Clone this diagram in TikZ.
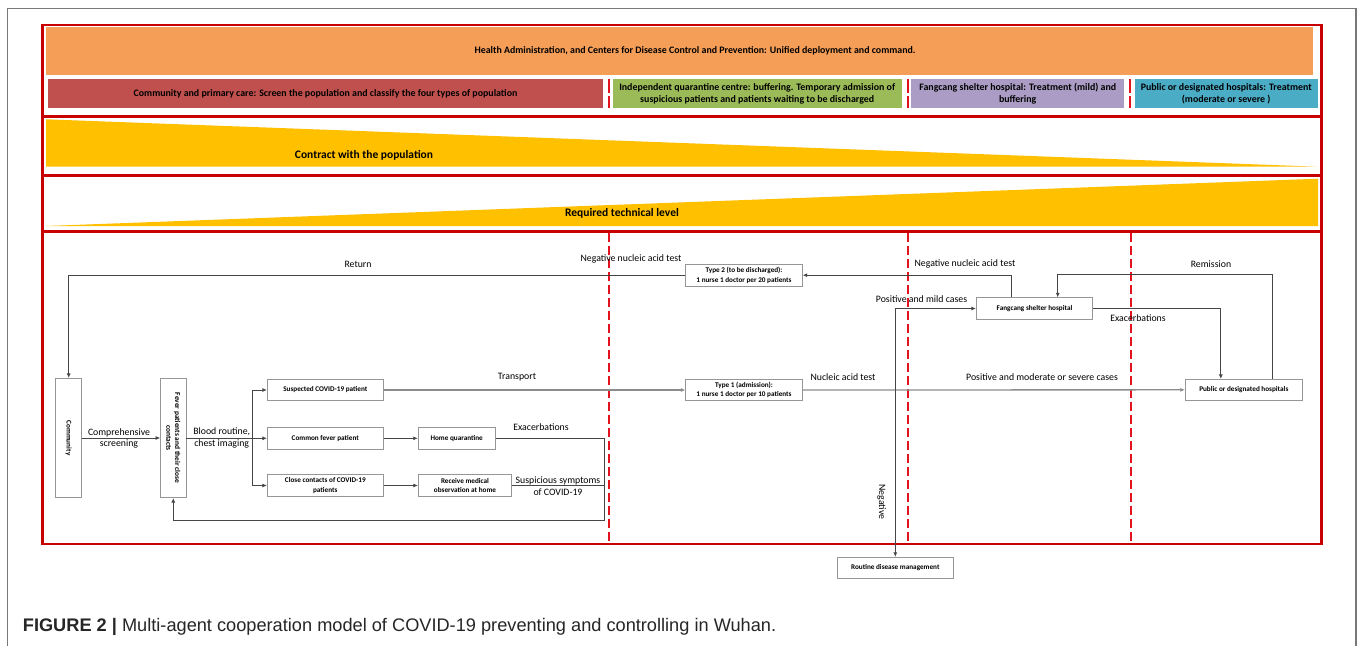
\documentclass[tikz,border=0pt]{standalone}
\usepackage{fontspec}
\setmainfont{Carlito}
\newfontfamily\capfont{Liberation Sans}
\usetikzlibrary{arrows.meta}

\definecolor{hdrorange}{RGB}{245,158,88}
\definecolor{cpcred}{RGB}{192,80,77}
\definecolor{iqcgreen}{RGB}{155,187,89}
\definecolor{fshpurple}{RGB}{170,156,196}
\definecolor{pdhblue}{RGB}{75,172,198}
\definecolor{triyellow}{RGB}{255,192,0}
\definecolor{framered}{RGB}{200,0,0}
\definecolor{zonered}{RGB}{225,20,30}
\definecolor{boxgray}{RGB}{150,150,150}
\definecolor{linegray}{RGB}{70,70,70}
\definecolor{maingray}{RGB}{140,140,140}
\definecolor{pagegray}{RGB}{120,120,120}

\begin{document}
\begin{tikzpicture}[
    x=1pt, y=-1pt,
    frame/.style={framered, line width=2.5pt},
    zone/.style={zonered, line width=1.6pt, dash pattern=on 9pt off 4pt},
    band/.style={inner sep=0pt, align=center, font=\bfseries\fontsize{9.9}{12}\selectfont},
    tritext/.style={inner sep=0pt, font=\bfseries\fontsize{11.5}{13}\selectfont},
    box/.style={draw=boxgray, fill=white, line width=0.8pt, inner sep=1pt, align=center,
        minimum width=116pt, minimum height=21.5pt, font=\bfseries\fontsize{7.2}{9.7}\selectfont},
    vbox/.style={box, minimum width=26pt, minimum height=119.4pt},
    lbl/.style={inner sep=0pt, align=center, font=\fontsize{9.8}{11.6}\selectfont},
    flow/.style={linegray, line width=0.8pt, -{Latex[length=4.5pt,width=4pt]}},
    link/.style={linegray, line width=0.8pt},
    mainflow/.style={flow, maingray, line width=1.3pt}
]

\useasboundingbox (0,0) rectangle (1358,646);
\fill[white] (0,0) rectangle (1358,646);

% page frame
\draw[pagegray, line width=1.3pt] (7.3,646) -- (7.3,8.3) -- (1356,8.3) -- (1356,646);

% =========================
% Header bands
% =========================
\foreach \zx in {609, 908, 1130}
{
    \draw[zone, dash pattern=on 14pt off 3pt] (\zx,79.3) -- (\zx,108.3);
}

\fill[hdrorange] (46,26.7) rectangle (1313,75);
\node[band] (hdr) at (695,51)
    {Health Administration, and Centers for Disease Control and Prevention: Unified deployment and command.};

\node[band, fill=cpcred, minimum width=555.6pt, minimum height=29pt] (cpc) at (325.5,93.8)
    {Community and primary care: Screen the population and classify the four types of population};
\node[band, fill=iqcgreen, minimum width=289pt, minimum height=29pt] (iqc) at (757.2,93.8)
    {Independent quarantine centre: buffering. Temporary admission of\\suspicious patients and patients waiting to be discharged};
\node[band, fill=fshpurple, minimum width=212.7pt, minimum height=29pt] (fsh) at (1017.7,93.8)
    {Fangcang shelter hospital: Treatment (mild) and\\buffering};
\node[band, fill=pdhblue, minimum width=183pt, minimum height=29pt] (pdh) at (1226.2,93.8)
    {Public or designated hospitals: Treatment\\(moderate or severe )};

% =========================
% Wedges
% =========================
\fill[triyellow] (46,119.3) -- (1318,166.7) -- (46,166.7) -- cycle;
\node[tritext] (contract) at (364,155) {Contract with the population};

\fill[triyellow] (46,226) -- (1318,178.7) -- (1318,226) -- cycle;
\node[tritext] (techlevel) at (622,213.3) {Required technical level};

% red frame
\draw[frame] (42.3,25) rectangle (1321.7,544);
\foreach \fy in {116.7, 175.3, 231.3}
{
    \draw[frame] (42.3,\fy) -- (1321.7,\fy);
}

% zone borders
\foreach \zx in {609, 908, 1131}
{
    \draw[zone] (\zx,232.5) -- (\zx,544);
}

% =========================
% Boxes
% =========================
\node[vbox] (comm) at (68.7,438) {\rotatebox{-90}{Community}};
\node[vbox, minimum width=25.4pt] (fever) at (173.3,438)
    {\rotatebox{-90}{\fontsize{7.4}{8.4}\selectfont\shortstack{Fever patients and their close\\contacts}}};

\node[box] (susp) at (325.3,390) {Suspected COVID-19 patient};
\node[box] (common) at (325.3,438.3) {Common fever patient};
\node[box] (close) at (325.3,485.5) {Close contacts of COVID-19\\patients};
\node[box, minimum width=77pt] (homeq) at (456.7,438.3) {Home quarantine};
\node[box, minimum width=93.3pt] (observe) at (465,485.5) {Receive medical\\observation at home};

\node[box, minimum width=116.6pt] (type2) at (744,275.2) {Type 2 (to be discharged):\\1 nurse 1 doctor per 20 patients};
\node[box, minimum width=116.6pt] (type1) at (744,390) {Type 1 (admission):\\1 nurse 1 doctor per 10 patients};
\node[box, minimum width=116.4pt] (fang) at (1034.5,308.5) {Fangcang shelter hospital};
\node[box, minimum width=117pt, minimum height=21pt] (pub) at (1243.8,389.8) {Public or designated hospitals};
\node[box] (routine) at (895.3,568) {Routine disease management};

% junction points
\coordinate (split) at (252.3,438.3);
\coordinate (test) at (895.3,390);
\coordinate (backR) at (604,520.7);
\coordinate (remTop) at (1272,274.3);

% =========================
% Connectors
% =========================
\draw[flow] (comm) -- (fever);
\draw[link] (fever.east |- split) -- (split);
\draw[link] (split |- susp) -- (split |- close);
\draw[flow] (split |- susp) -- (susp);
\draw[flow] (split) -- (common);
\draw[flow] (split |- close) -- (close);
\draw[flow] (common) -- (homeq);
\draw[flow] (close) -- (observe);
\draw[flow] (homeq.east) -| (backR) -| (fever.south);
\draw[link] (observe.east) -- (observe.east -| backR);

\draw[mainflow] (susp) -- (type1);
\draw[mainflow] (type1) -- (pub);
\draw[flow] (test) |- (fang.west);
\draw[flow] (test) -- (routine);
\draw[flow] ([xshift=-23.2pt]fang.north) |- (type2.east);
\draw[flow] (type2.west) -| (comm.north);
\draw[flow] (fang.east) -| ([xshift=-23pt]pub.north);
\draw[flow] ([xshift=28.2pt]pub.north) -- (remTop) -| ([xshift=23.2pt]fang.north);

% =========================
% Labels
% =========================
\node[lbl] (lscreen) at (119,438.5) {Comprehensive\\screening};
\node[lbl] (lblood) at (221.7,437.7) {Blood routine,\\chest imaging};
\node[lbl] (ltrans) at (517,377) {Transport};
\node[lbl] (lexleft) at (541,426.7) {Exacerbations};
\node[lbl] (lsusp) at (558,486) {Suspicious symptoms\\of COVID-19};
\node[lbl] (lreturn) at (358,264) {Return};
\node[lbl] (lneg1) at (631,258.7) {Negative nucleic acid test};
\node[lbl] (lneg2) at (965,264) {Negative nucleic acid test};
\node[lbl] (lmild) at (921.5,299.3) {Positive and mild cases};
\node[lbl] (ltest) at (843,377) {Nucleic acid test};
\node[lbl] (lsevere) at (1042,377) {Positive and moderate or severe cases};
\node[lbl] (lremis) at (1211,264) {Remission};
\node[lbl] (lexright) at (1138,318) {Exacerbations};
\node[lbl, rotate=-90] (lneg) at (881.7,502) {Negative};

% caption
\node[anchor=base west, inner sep=0pt, text=black!85, font=\capfont\fontsize{18.2}{21}\selectfont] (cap) at (22.7,631.7)
    {\textbf{FIGURE 2 |} Multi-agent cooperation model of COVID-19 preventing and controlling in Wuhan.};

\end{tikzpicture}
\end{document}
